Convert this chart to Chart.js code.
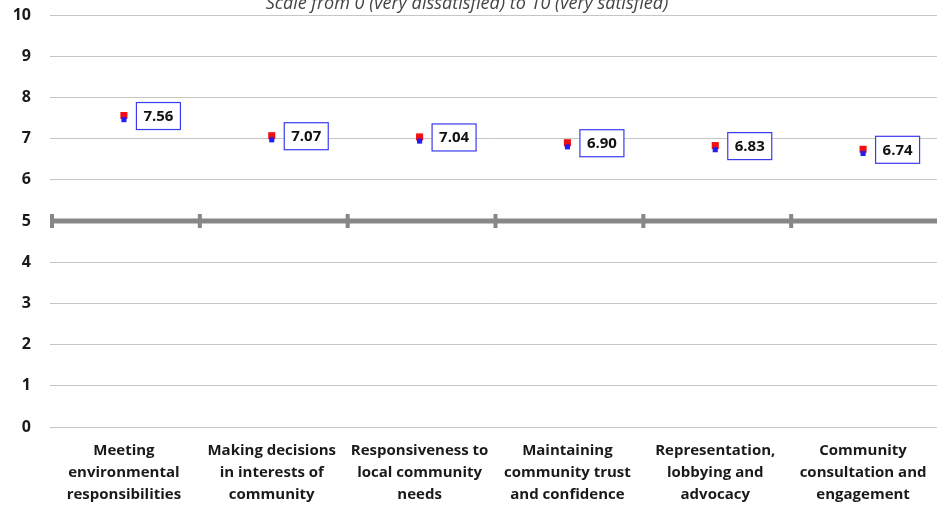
<!DOCTYPE html>
<html>
<head>
<meta charset="utf-8">
<script src="https://cdn.jsdelivr.net/npm/chart.js@4.4.1/dist/chart.umd.min.js"></script>
<style>
  html, body { margin: 0; padding: 0; background: #fff; overflow: hidden; }
  #wrap { width: 937px; height: 508px; position: relative; }
</style>
</head>
<body>
<div id="wrap"><canvas id="myChart"></canvas></div>
<script>
const categories = [
    ["Meeting", "environmental", "responsibilities"],
    ["Making decisions", "in interests of", "community"],
    ["Responsiveness to", "local community", "needs"],
    ["Maintaining", "community trust", "and confidence"],
    ["Representation,", "lobbying and", "advocacy"],
    ["Community", "consultation and", "engagement"]
];
const scores = [7.56, 7.07, 7.04, 6.90, 6.83, 6.74];
const lowerMarks = [7.46, 6.97, 6.94, 6.80, 6.73, 6.64];
const yTicks = [0, 1, 2, 3, 4, 5, 6, 7, 8, 9, 10];
const titleText = "Scale from 0 (very dissatisfied) to 10 (very satisfied)";
const midline = 5;

const ctx = document.getElementById('myChart').getContext('2d');

// thick line at 5 with tick marks, value boxes, cut-off title
const extras = {
    id: 'extras',
    beforeDatasetsDraw(chart) {
        const c = chart.ctx;
        const x = chart.scales.x;
        const y = chart.scales.y;
        const py = y.getPixelForValue(midline);
        c.save();
        c.strokeStyle = '#878787';
        c.lineWidth = 5;
        c.beginPath();
        c.moveTo(chart.chartArea.left, py);
        c.lineTo(chart.chartArea.right, py);
        c.stroke();
        c.lineWidth = 4;
        const step = x.getPixelForValue(1) - x.getPixelForValue(0);
        for (let i = 0; i < categories.length; i++) {
            const bx = x.getPixelForValue(i) - step / 2 + 2;
            c.beginPath();
            c.moveTo(bx, py - 7);
            c.lineTo(bx, py + 7);
            c.stroke();
        }
        c.restore();
    },
    afterDatasetsDraw(chart) {
        const c = chart.ctx;
        const meta = chart.getDatasetMeta(1);
        c.save();
        c.font = 'bold 15px "Open Sans"';
        c.textAlign = 'center';
        c.textBaseline = 'middle';
        meta.data.forEach((pt, i) => {
            const w = 44, h = 27;
            const left = pt.x + 12;
            const top = pt.y - h / 2;
            c.fillStyle = '#fff';
            c.fillRect(left, top, w, h);
            c.strokeStyle = '#3b3bf0';
            c.lineWidth = 1.2;
            c.strokeRect(left + 0.5, top + 0.5, w, h);
            c.fillStyle = '#111';
            c.fillText(scores[i].toFixed(2), left + w / 2 + 0.5, pt.y + 1);
        });
        c.font = 'italic 18px "Open Sans"';
        c.fillStyle = '#444';
        c.textAlign = 'center';
        c.textBaseline = 'alphabetic';
        c.fillText(titleText, 467, 9);
        c.restore();
    }
};

const myChart = new Chart(ctx, {
    type: 'line',
    data: {
        labels: categories,
        datasets: [
            {
                label: 'lower',
                data: lowerMarks,
                showLine: false,
                pointStyle: 'rect',
                pointRadius: 3.6,
                pointBorderWidth: 0,
                backgroundColor: '#1f1ff5',
                borderColor: '#1f1ff5'
            },
            {
                label: 'score',
                data: scores,
                showLine: false,
                pointStyle: 'rect',
                pointRadius: 5,
                pointBorderWidth: 0,
                backgroundColor: '#f01010',
                borderColor: '#f01010'
            }
        ]
    },
    options: {
        responsive: true,
        maintainAspectRatio: false,
        animation: false,
        layout: { autoPadding: false, padding: { top: 15, right: 0, left: 0, bottom: 0 } },
        plugins: {
            legend: { display: false },
            tooltip: { enabled: false }
        },
        scales: {
            x: {
                offset: true,
                grid: { display: false, drawTicks: false },
                border: { display: false },
                ticks: {
                    color: '#1a1a1a',
                    font: { family: 'Open Sans', size: 15, weight: 'bold', lineHeight: 1.47 },
                    padding: 13,
                    maxRotation: 0,
                    autoSkip: false
                },
                afterFit(scale) {
                    scale.height = 81;
                    scale.paddingLeft = 0;
                    scale.paddingRight = 0;
                }
            },
            y: {
                min: 0,
                max: 10,
                afterBuildTicks(scale) { scale.ticks = yTicks.map(v => ({ value: v })); },
                grid: {
                    color: '#c6c6c6',
                    lineWidth: 1,
                    drawTicks: false
                },
                border: { display: false },
                ticks: {
                    color: '#1a1a1a',
                    font: { family: 'Open Sans', size: 16, weight: 'bold' },
                    padding: 19
                },
                afterFit(scale) {
                    scale.width = 50;
                    scale.paddingTop = 0;
                    scale.paddingBottom = 0;
                }
            }
        }
    },
    plugins: [extras]
});
</script>
</body>
</html>
